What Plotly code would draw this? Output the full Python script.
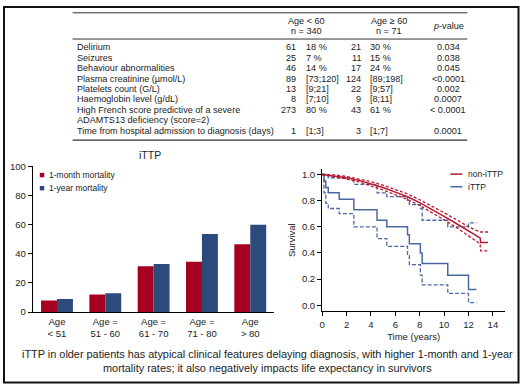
import plotly.graph_objects as go

W, H = 520, 389
def px(x):
    return x / W
def py(y):
    return 1 - y / H

# ---------------- table data ----------------
table_labels = ["Delirium", "Seizures", "Behaviour abnormalities", "Plasma creatinine (\u00b5mol/L)",
                "Platelets count (G/L)", "Haemoglobin level (g/dL)",
                "High French score predictive of a severe", "Time from hospital admission to diagnosis (days)"]
table_label_cont = ["", "", "", "", "", "", "ADAMTS13 deficiency (score=2)", ""]
young_n = ["61", "25", "46", "89", "13", "8", "273", "1"]
young_stat = ["18 %", "7 %", "14 %", "[73;120]", "[9;21]", "[7;10]", "80 %", "[1;3]"]
old_n = ["21", "11", "17", "124", "22", "9", "43", "3"]
old_stat = ["30 %", "15 %", "24 %", "[89;198]", "[9;57]", "[8;11]", "61 %", "[1;7]"]
p_values = ["0.034", "0.038", "0.045", "<0.0001", "0.002", "0.0007", "< 0.0001", "0.0001"]
header_young = ["Age < 60", "n = 340"]
header_old = ["Age \u2265 60", "n = 71"]
header_p = "<i>p</i>-value"

# ---------------- bar chart data ----------------
age_groups = ["Age<br>< 51", "Age =<br>51 - 60", "Age =<br>61 - 70", "Age =<br>71 - 80", "Age<br>> 80"]
mortality_1month = [8, 12, 31.5, 34.5, 46.5]
mortality_1year = [9, 13, 33, 53.5, 60]
bar_title = "iTTP"
bar_series_names = ["1-month mortality", "1-year mortality"]

# ---------------- survival data ----------------
ittp_t = [0, 0.15, 0.3, 0.5, 1.4, 2.6, 4.5, 5.3, 7.0, 7.15, 8.05, 8.2, 10.3, 12.0, 12.65]
ittp_s = [1.0, 0.95, 0.90, 0.86, 0.81, 0.73, 0.65, 0.60, 0.54, 0.47, 0.40, 0.32, 0.23, 0.12, 0.12]
ittp_lo = [1.0, 0.86, 0.78, 0.74, 0.70, 0.60, 0.51, 0.45, 0.38, 0.31, 0.23, 0.155, 0.09, 0.02, 0.02]
ittp_hi = [1.0, 1.0, 0.99, 0.975, 0.97, 0.925, 0.86, 0.83, 0.79, 0.77, 0.74, 0.65, 0.60, 0.63, 0.63]

non_t = [0, 1, 2, 3, 4, 5, 6, 7, 8, 9, 10, 11, 12, 12.6, 12.95, 13.0, 13.6]
non_s = [1.0, 0.99, 0.975, 0.955, 0.93, 0.90, 0.865, 0.83, 0.785, 0.735, 0.68, 0.625, 0.565, 0.535, 0.515, 0.48, 0.48]
non_hi = [1.0, 0.997, 0.985, 0.967, 0.945, 0.918, 0.885, 0.851, 0.807, 0.76, 0.707, 0.655, 0.60, 0.575, 0.56, 0.56, 0.56]
non_lo = [1.0, 0.983, 0.965, 0.943, 0.915, 0.882, 0.845, 0.809, 0.763, 0.71, 0.653, 0.595, 0.53, 0.495, 0.47, 0.415, 0.415]
surv_names = ["non-iTTP", "iTTP"]

caption_lines = ["iTTP in older patients has atypical clinical features delaying diagnosis, with higher 1-month and 1-year",
                 "mortality rates; it also negatively impacts life expectancy in survivors"]

RED_BAR = "#A50021"
BLUE_BAR = "#2C4A7C"
RED_LINE = "#B8182E"
BLUE_LINE = "#4C68A2"
TXT = "#222222"
FONT = "Liberation Sans"
NARROW = "Liberation Sans Narrow, Liberation Sans"

fig = go.Figure()

fig.add_trace(go.Bar(x=age_groups, y=mortality_1month, name=bar_series_names[0],
                     marker=dict(color=RED_BAR, line=dict(width=0)), xaxis="x", yaxis="y", showlegend=False))
fig.add_trace(go.Bar(x=age_groups, y=mortality_1year, name=bar_series_names[1],
                     marker=dict(color=BLUE_BAR, line=dict(width=0)), xaxis="x", yaxis="y", showlegend=False))

# survival curves
fig.add_trace(go.Scatter(x=ittp_t, y=ittp_lo, mode="lines", line=dict(color=BLUE_LINE, width=1.3, dash="4px,2px", shape="hv"),
                         xaxis="x2", yaxis="y2", showlegend=False))
fig.add_trace(go.Scatter(x=ittp_t, y=ittp_hi, mode="lines", line=dict(color=BLUE_LINE, width=1.3, dash="4px,2px", shape="hv"),
                         xaxis="x2", yaxis="y2", showlegend=False))
fig.add_trace(go.Scatter(x=ittp_t, y=ittp_s, mode="lines", line=dict(color=BLUE_LINE, width=1.5, shape="hv"),
                         xaxis="x2", yaxis="y2", showlegend=False))
fig.add_trace(go.Scatter(x=non_t, y=non_hi, mode="lines", line=dict(color=RED_LINE, width=1.3, dash="3px,2px"),
                         xaxis="x2", yaxis="y2", showlegend=False))
fig.add_trace(go.Scatter(x=non_t, y=non_lo, mode="lines", line=dict(color=RED_LINE, width=1.3, dash="3px,2px"),
                         xaxis="x2", yaxis="y2", showlegend=False))
fig.add_trace(go.Scatter(x=non_t, y=non_s, mode="lines", line=dict(color=RED_LINE, width=1.5),
                         xaxis="x2", yaxis="y2", showlegend=False))

annotations = []
shapes = []

def ann(x, y, text, size=9.1, xanchor="left", family=FONT, color=TXT, yanchor="middle", **kw):
    annotations.append(dict(x=px(x), y=py(y), xref="paper", yref="paper", text=text, showarrow=False,
                            xanchor=xanchor, yanchor=yanchor, font=dict(size=size, family=family, color=color), **kw))

# table
for yy, lw in [(7, 1), (34, 1), (138, 1.3)]:
    shapes.append(dict(type="line", xref="paper", yref="paper", x0=px(70), x1=px(467), y0=py(yy), y1=py(yy),
                       line=dict(color="#333333", width=lw)))
ann(305, 15, header_young[0], xanchor="center")
ann(305, 26, header_young[1], xanchor="center")
ann(388, 15, header_old[0], xanchor="center")
ann(388, 26, header_old[1], xanchor="center")
ann(448, 21, header_p, xanchor="center")
row_y = [42.7, 53.3, 64, 74.7, 85.3, 96, 106.7, 128.3]
for i in range(len(table_labels)):
    y = row_y[i]
    ann(72, y, table_labels[i])
    if table_label_cont[i]:
        ann(72, y + 10.7, table_label_cont[i])
    ann(297, y, young_n[i], xanchor="right")
    ann(303, y, young_stat[i])
    ann(362, y, old_n[i], xanchor="right")
    ann(367, y, old_stat[i])
    ann(448, y, p_values[i], xanchor="center")

# bar chart title and legend
ann(148, 153, bar_title, size=10.5, xanchor="center")
for k, (col, name) in enumerate([(RED_BAR, bar_series_names[0]), (BLUE_BAR, bar_series_names[1])]):
    yy = 174 + 13.5 * k
    shapes.append(dict(type="rect", xref="paper", yref="paper", x0=px(37), x1=px(41.5), y0=py(yy + 2.3), y1=py(yy - 2.3),
                       fillcolor=col, line=dict(width=0)))
    ann(44, yy, name, size=8.5)

# survival legend
for k, (col, name) in enumerate([(RED_LINE, surv_names[0]), (BLUE_LINE, surv_names[1])]):
    yy = 173 + 13 * k
    shapes.append(dict(type="line", xref="paper", yref="paper", x0=px(450), x1=px(462), y0=py(yy), y1=py(yy),
                       line=dict(color=col, width=1.5)))
    ann(466, yy, name, size=8.5, family=NARROW)

# caption
ann(266, 358, caption_lines[0], size=10.9, xanchor="center")
ann(266, 373, caption_lines[1], size=10.9, xanchor="center")

# outer frame
shapes.append(dict(type="rect", xref="paper", yref="paper", x0=px(1), x1=px(518.5), y0=py(387.5), y1=py(1),
                   line=dict(color="#111111", width=2), fillcolor="rgba(0,0,0,0)"))

axis_common = dict(showline=True, linecolor="black", linewidth=1.3, showgrid=False, zeroline=False,
                   ticks="outside", ticklen=4, tickwidth=1.2, tickcolor="black")

fig.update_layout(
    width=W, height=H, margin=dict(l=0, r=0, t=0, b=0),
    paper_bgcolor="white", plot_bgcolor="white",
    bargap=0.34, bargroupgap=0,
    barmode="group",
    font=dict(family=FONT, color=TXT),
    xaxis=dict(domain=[px(30), px(273)], anchor="y", type="category", showline=True, linecolor="black",
               linewidth=1.3, ticks="", showgrid=False, zeroline=False, tickfont=dict(size=9.5, family=FONT, color=TXT)),
    yaxis=dict(domain=[py(315), py(165)], anchor="x", range=[0, 100], tickvals=[0, 20, 40, 60, 80, 100],
               tickfont=dict(size=9.5, family=FONT, color=TXT), **axis_common),
    xaxis2=dict(domain=[px(321), px(505)], anchor="y2", range=[0, 15], tickvals=[0, 2, 4, 6, 8, 10, 12, 14],
                tickfont=dict(size=9.5, family=NARROW, color=TXT),
                title=dict(text="Time (years)", font=dict(size=9.5, family=NARROW, color=TXT), standoff=4), **axis_common),
    yaxis2=dict(domain=[py(314), py(168)], anchor="x2", range=[-0.045, 1.04], tickvals=[0, 0.2, 0.4, 0.6, 0.8, 1.0],
                tickformat=".1f", tickfont=dict(size=9.5, family=NARROW, color=TXT),
                title=dict(text="Survival", font=dict(size=9.5, family=NARROW, color=TXT), standoff=4), **axis_common),
    annotations=annotations, shapes=shapes,
)

fig.write_html("out.html", config={"displayModeBar": False},
               post_script="document.body.style.margin='0';document.body.style.overflow='hidden';")
